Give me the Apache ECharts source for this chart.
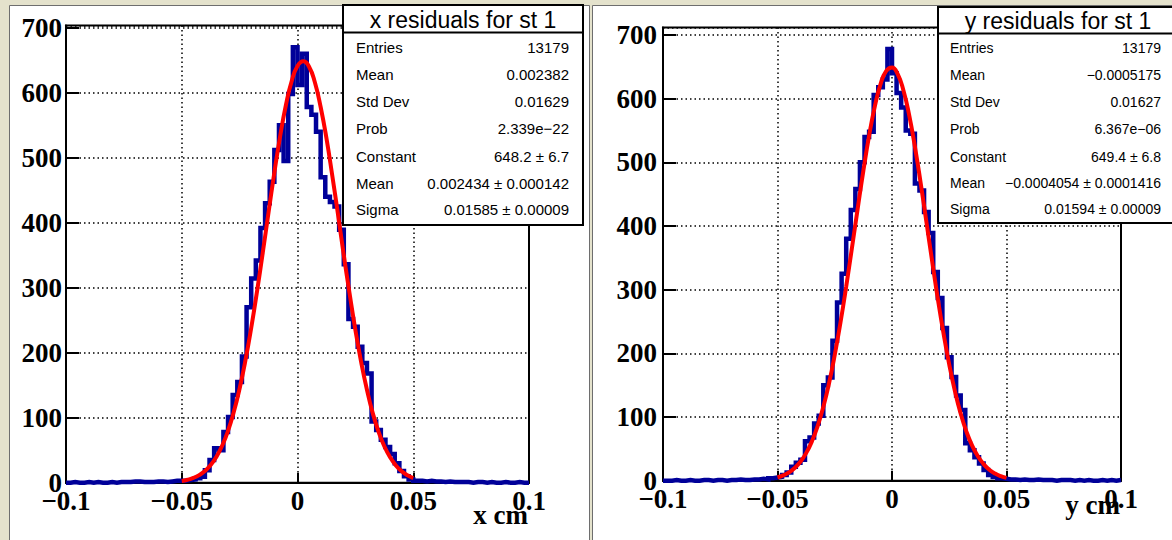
<!DOCTYPE html>
<html><head><meta charset="utf-8">
<script src="https://cdn.jsdelivr.net/npm/echarts@6/dist/echarts.min.js"></script>
<style>html,body{margin:0;padding:0;background:#e4e2cc;overflow:hidden}#c{width:1172px;height:540px}</style>
</head><body><div id="c"></div>
<script>
// ---- data ----
const xTickValues = [-0.1, -0.05, 0, 0.05, 0.1];
const xTickLabels = ['\u22120.1', '\u22120.05', '0', '0.05', '0.1'];
const yTickLabels = ['0', '100', '200', '300', '400', '500', '600', '700'];
const binLow = -0.1, binWidth = 0.002, nBins = 100;

const xResidCounts = [
  0,1,0,0,1,0,1,0,0,1, 0,1,1,1,2,2,1,1,1,2, 2,1,2,3,3,
  3,4,5,7,9, 19,35,53,50,78, 101,135,155,194,270, 314,342,392,430,463,
  512,550,495,598,670, 612,660,578,566,540, 470,440,432,425,389,
  336,252,240,209,184, 168,94,81,66,55, 44,30,18,10,5, 3,
  3,2,3,2,2,1,2,1,1,1, 1,0,1,1,0,1,0,0,1,0, 0,1,0,0
];
const yResidCounts = [
  0,0,1,0,0,1,0,0,1,1, 0,1,1,0,1,1,2,1,1,2, 2,3,2,4,5,
  6,9,13,22,28, 33,62,68,90,102, 150,162,220,280,325, 380,425,458,500,540,
  548,606,618,630,678, 640,609,586,550,545, 467,456,422,389,328,
  287,240,194,163,134, 111,59,48,37,27, 17,9,6,4,3, 2,
  2,1,2,1,1,2,1,1,1,0, 1,1,1,0,1,0,1,0,0,1, 0,1,0,1
];

const fitX = [-0.05,-0.0475,-0.045,-0.0425,-0.04,-0.0375,-0.035,-0.0325,-0.03,-0.0275,
  -0.025,-0.0225,-0.02,-0.0175,-0.015,-0.0125,-0.01,-0.0075,-0.005,-0.0025,
  0,0.0025,0.005,0.0075,0.01,0.0125,0.015,0.0175,0.02,0.0225,
  0.025,0.0275,0.03,0.0325,0.035,0.0375,0.04,0.0425,0.045,0.0475,0.05];
const xFitY = [2.7,4.5,7.4,11.7,18.0,27.1,39.9,57.2,79.9,109,
  145,188,238,294,354,416,477,533,581,618,
  641,648.2,640,616,578,530,473,412.5,350,291,
  235,185.6,143,107,78.5,56,39.1,26.5,17.6,11.4,7.2];
const yFitY = [5.1,8.3,13.0,19.9,29.7,43.3,61.6,85.5,115.8,153,
  197.6,248.5,305,365.4,427,487,541.8,588,623,643.8,
  649.2,638.7,613,574.3,524.8,468,407,345.6,286,231.3,
  182.4,140.3,105.3,77.1,55.1,38.4,26.1,17.3,11.2,7.1,4.4];

const xStatsTitle = 'x residuals for st 1';
const yStatsTitle = 'y residuals for st 1';
const statsNames = ['Entries', 'Mean', 'Std Dev', 'Prob', 'Constant', 'Mean', 'Sigma'];
const xStatsValues = ['13179', '0.002382', '0.01629', '2.339e\u221222', '648.2 \u00b1 6.7', '0.002434 \u00b1 0.000142', '0.01585 \u00b1 0.00009'];
const yStatsValues = ['13179', '\u22120.0005175', '0.01627', '6.367e\u221206', '649.4 \u00b1 6.8', '\u22120.0004054 \u00b1 0.0001416', '0.01594 \u00b1 0.00009'];
const xAxisTitle = 'x cm';
const yAxisTitle = 'y cm';
const yMaxLeft = 703.5, yMaxRight = 712;

// ---- build ----
function histData(counts) {
  const d = [];
  for (let i = 0; i < nBins; i++) d.push([binLow + i * binWidth, counts[i]]);
  d.push([binLow + nBins * binWidth, counts[nBins - 1]]);
  return d;
}
function fitData(ys) { return fitX.map((x, i) => [x, ys[i]]); }

const serifFont = 'Liberation Serif';
function xLabelFmt(v) {
  const i = xTickValues.findIndex(t => Math.abs(t - v) < 1e-9);
  return i >= 0 ? xTickLabels[i] : '';
}
function yLabelFmt(v) {
  const k = Math.round(v / 100);
  return Math.abs(v - k * 100) < 1e-6 && k < yTickLabels.length ? yTickLabels[k] : '';
}
const gridDots = { color: '#000', width: 1.5, type: [1.5, 3] };
function mkX(gi) {
  return {
    type: 'value', gridIndex: gi, min: -0.1, max: 0.1, interval: 0.05,
    axisLine: { show: true, onZero: false, lineStyle: { color: '#000', width: 2 } },
    axisTick: { show: true, inside: true, length: 10, lineStyle: { color: '#000', width: 2 } },
    axisLabel: { formatter: xLabelFmt, margin: 5, color: '#000', fontFamily: serifFont, fontWeight: 'bold', fontSize: 27 },
    splitLine: { show: true, lineStyle: gridDots }
  };
}
function mkY(gi, max, margin) {
  return {
    type: 'value', gridIndex: gi, min: 0, max: max, interval: 100,
    axisLine: { show: true, onZero: false, lineStyle: { color: '#000', width: 2 } },
    axisTick: { show: true, inside: true, length: 13, lineStyle: { color: '#000', width: 2 } },
    axisLabel: { formatter: yLabelFmt, showMaxLabel: false, margin: margin, color: '#000', fontFamily: serifFont, fontWeight: 'bold', fontSize: 27 },
    splitLine: { show: true, lineStyle: gridDots }
  };
}
function statsBox(x, w, top, bottom, titleH, title, values, fs, rowY, nameX, valX) {
  const els = [];
  els.push({ type: 'rect', z: 100, shape: { x: x, y: top, width: w, height: bottom - top }, style: { fill: '#fff', stroke: '#000', lineWidth: 2 } });
  els.push({ type: 'line', z: 101, shape: { x1: x, y1: top + titleH, x2: x + w, y2: top + titleH }, style: { stroke: '#000', lineWidth: 2 } });
  els.push({ type: 'text', z: 102, x: x + w / 2, y: top + titleH / 2 + 1, style: { text: title, fill: '#000', font: '23px "Liberation Sans"', textAlign: 'center', textVerticalAlign: 'middle' } });
  statsNames.forEach((n, i) => {
    els.push({ type: 'text', z: 102, x: nameX, y: rowY[i], style: { text: n, fill: '#000', font: fs + 'px "Liberation Sans"', textAlign: 'left', textVerticalAlign: 'middle' } });
    els.push({ type: 'text', z: 102, x: valX, y: rowY[i], style: { text: values[i], fill: '#000', font: fs + 'px "Liberation Sans"', textAlign: 'right', textVerticalAlign: 'middle' } });
  });
  return els;
}

const chart = echarts.init(document.getElementById('c'), null, { renderer: 'svg' });
const rowsL = [47, 74, 101.5, 128.5, 156.5, 183, 209];
const rowsR = [48, 75, 102, 128.5, 156.5, 183, 209];
const graphics = [
  { type: 'rect', z: -10, shape: { x: 9.5, y: 5.5, width: 580, height: 560 }, style: { fill: '#fff', stroke: '#6e6e6e', lineWidth: 1 } },
  { type: 'rect', z: -10, shape: { x: 592.5, y: 5.5, width: 600, height: 560 }, style: { fill: '#fff', stroke: '#6e6e6e', lineWidth: 1 } },
  { type: 'text', z: 50, x: 528, y: 528, style: { text: xAxisTitle, fill: '#000', font: 'bold 27px "Liberation Serif"', textAlign: 'right', textVerticalAlign: 'bottom' } },
  { type: 'text', z: 50, x: 1120, y: 518, style: { text: yAxisTitle, fill: '#000', font: 'bold 27px "Liberation Serif"', textAlign: 'right', textVerticalAlign: 'bottom' } }
].concat(
  statsBox(343, 240, 5, 225, 27.5, xStatsTitle, xStatsValues, 15, rowsL, 356, 569),
  statsBox(938, 240, 7, 223, 26.5, yStatsTitle, yStatsValues, 14, rowsR, 950, 1161)
);

chart.setOption({
  backgroundColor: '#e4e2cc',
  animation: false,
  grid: [
    { left: 66, top: 25.4, width: 463, height: 457.3, show: true, borderColor: '#000', borderWidth: 2, backgroundColor: 'transparent' },
    { left: 663, top: 27.4, width: 458, height: 453.3, show: true, borderColor: '#000', borderWidth: 2, backgroundColor: 'transparent' }
  ],
  xAxis: [mkX(0), mkX(1)],
  yAxis: [mkY(0, yMaxLeft, 4), mkY(1, yMaxRight, 6)],
  graphic: graphics,
  series: [
    { type: 'line', xAxisIndex: 0, yAxisIndex: 0, step: 'end', data: histData(xResidCounts), showSymbol: false, clip: false,
      lineStyle: { color: '#000099', width: 4.5, join: 'miter' }, z: 3 },
    { type: 'line', xAxisIndex: 0, yAxisIndex: 0, smooth: true, data: fitData(xFitY), showSymbol: false, clip: false,
      lineStyle: { color: '#ff0000', width: 4 }, z: 4 },
    { type: 'line', xAxisIndex: 1, yAxisIndex: 1, step: 'end', data: histData(yResidCounts), showSymbol: false, clip: false,
      lineStyle: { color: '#000099', width: 4.5, join: 'miter' }, z: 3 },
    { type: 'line', xAxisIndex: 1, yAxisIndex: 1, smooth: true, data: fitData(yFitY), showSymbol: false, clip: false,
      lineStyle: { color: '#ff0000', width: 4 }, z: 4 }
  ]
});
</script></body></html>
